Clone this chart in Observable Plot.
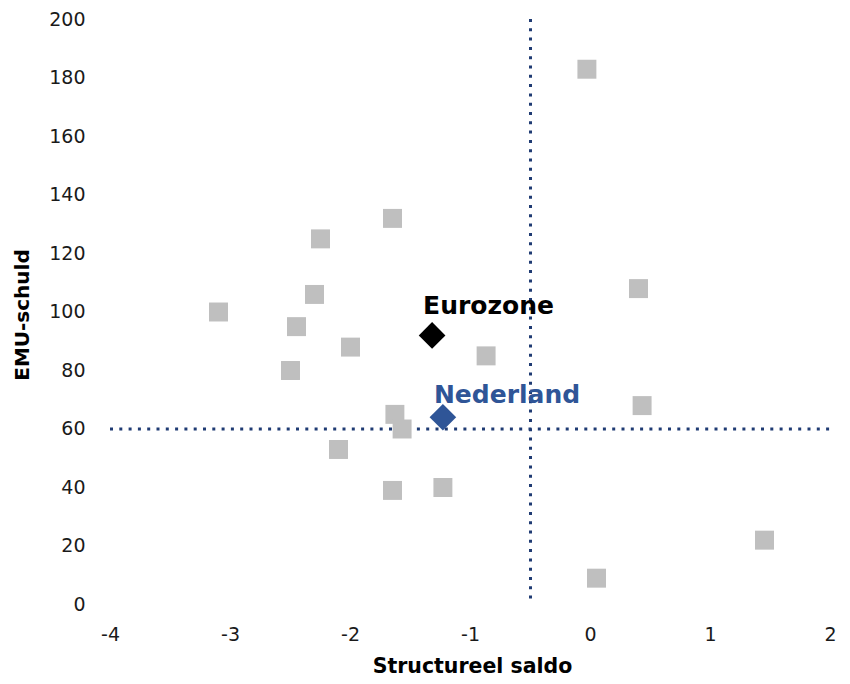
<!DOCTYPE html>
<html>
<head>
<meta charset="utf-8">
<script src="https://cdn.jsdelivr.net/npm/d3@7"></script>
<script src="https://cdn.jsdelivr.net/npm/@observablehq/plot@0.6"></script>
<style>
  body { margin: 0; background: #fff; }
  #chart { width: 850px; height: 684px; }
</style>
</head>
<body>
<div id="chart"></div>
<script>
// Grey squares: countries (structureel saldo, EMU-schuld)
const countrySaldo = [-3.1, -2.5, -2.45, -2.3, -2.25, -2.0, -2.1, -1.65, -1.63, -1.57, -1.65, -1.23, -0.87, -0.03, 0.4, 0.43, 0.05, 1.45];
const countrySchuld = [100, 80, 95, 106, 125, 88, 53, 132, 65, 60, 39, 40, 85, 183, 108, 68, 9, 22];

// Highlighted points
const highlightNames = ["Eurozone", "Nederland"];
const highlightSaldo = [-1.32, -1.23];
const highlightSchuld = [92, 64];
const highlightColors = ["#000000", "#2F5597"];
const labelDy = [-29, -22];

// Reference lines
const refSaldo = [-0.5];
const refSchuld = [60];

// Ticks
const xTicks = [-4, -3, -2, -1, 0, 1, 2];
const yTicks = [0, 20, 40, 60, 80, 100, 120, 140, 160, 180, 200];

const countries = countrySaldo.map((x, i) => ({x, y: countrySchuld[i]}));
const highlights = highlightNames.map((name, i) => ({
  name, x: highlightSaldo[i], y: highlightSchuld[i], color: highlightColors[i], dy: labelDy[i]
}));

const lineColor = "#1F3B73";

const chart = Plot.plot({
  width: 850,
  height: 684,
  marginLeft: 110,
  marginRight: 20,
  marginTop: 19,
  marginBottom: 80,
  style: { fontFamily: "'DejaVu Sans', Verdana, sans-serif", fontSize: "19px", color: "#1a1a1a", background: "#fff" },
  x: { domain: [-4, 2] },
  y: { domain: [0, 200] },
  marks: [
    Plot.axisX({ ticks: xTicks, tickSize: 0, tickPadding: 23, tickFormat: d => String(d), label: null, fontSize: 19 }),
    Plot.axisY({ ticks: yTicks, tickSize: 0, tickPadding: 25, tickFormat: d => String(d), label: null, fontSize: 19 }),
    Plot.ruleY(refSchuld, { stroke: lineColor, strokeWidth: 3, strokeDasharray: "3,6.3" }),
    Plot.ruleX(refSaldo, { stroke: lineColor, strokeWidth: 3, strokeDasharray: "3,6.3" }),
    Plot.dot(countries, { x: "x", y: "y", symbol: "square", r: 10.7, fill: "#BFBFBF" }),
    Plot.dot(highlights, { x: "x", y: "y", symbol: "diamond2", r: 12, fill: "color" }),
    ...highlights.map(h => Plot.text([h], {
      x: "x", y: "y", text: "name", dx: -9, dy: h.dy, textAnchor: "start",
      fill: h.color, fontWeight: "bold", fontSize: 25
    })),
    Plot.text(["EMU-schuld"], { frameAnchor: "left", textAnchor: "middle", dx: -88, dy: 3, rotate: -90, text: d => d, fontWeight: "bold", fontSize: 20, fill: "#000" }),
    Plot.text(["Structureel saldo"], { frameAnchor: "bottom", dy: 68, dx: 2, text: d => d, fontWeight: "bold", fontSize: 20.5, fill: "#000" })
  ]
});
document.getElementById("chart").appendChild(chart);
</script>
</body>
</html>
